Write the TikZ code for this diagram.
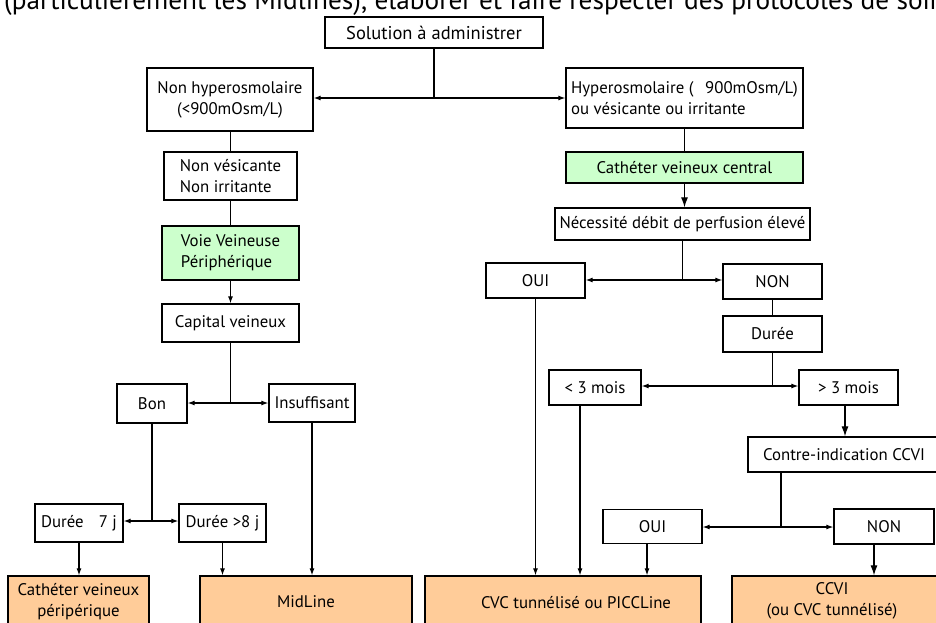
\documentclass[tikz,border=0pt]{standalone}
\usepackage{fontspec}
\setmainfont{PT Sans}
\usetikzlibrary{arrows.meta}
\definecolor{gfillc}{HTML}{CCFFCC}
\definecolor{ofillc}{HTML}{FFCC99}
\begin{document}
\begin{tikzpicture}[x=1pt,y=-1pt,
  box/.style={draw, line width=1.3pt, inner sep=0pt, align=center, font=\fontsize{16.8}{21}\selectfont},
  txt/.style={inner sep=0pt, align=center, font=\fontsize{16.8}{21}\selectfont},
  gbox/.style={box, fill=gfillc},
  obox/.style={box, fill=ofillc},
  sz/.style 2 args={minimum width=#1pt, minimum height=#2pt},
  ln/.style={line width=1.1pt},
  arr/.style={line width=1.1pt, -{Latex[length=7pt,width=5pt]}},
  barr/.style={line width=1.1pt, -{Latex[length=10pt,width=7pt]}}]
\useasboundingbox (0,0) rectangle (936,623);
\clip (0,0) rectangle (936,623);
\fill[white] (0,0) rectangle (936,623);
\node[anchor=base west, font=\fontsize{27.3}{30}\selectfont, inner sep=0pt] (top) at (4,10) {(particulièrement les Midlines), élaborer et faire respecter des protocoles de soins};
% left branch
\node[box,sz={218}{31}, font=\fontsize{18.5}{20}\selectfont] (sol) at (434,32.5) {Solution à administrer};
\node[box,sz={166}{63}] (nhyp) at (230,99.5) {Non hyperosmolaire\\(<900mOsm/L)};
\node[box,sz={133}{48},align=left] (nves) at (230.5,176) {Non vésicante\\Non irritante};
\node[gbox,sz={137}{54},align=left] (vvp) at (230.5,253) {Voie Veineuse\\Périphérique};
\node[box,sz={137}{38}] (cap) at (230.5,323) {Capital veineux};
\node[box,sz={70}{39}] (bon) at (152,403.5) {Bon};
\node[box,sz={86}{38}] (insuf) at (312,403) {Insuffisant};
\node[box,sz={88}{38}] (d7) at (79,523) {Durée\hspace{0.9em}7 j};
\node[box,sz={87}{38}] (d8) at (222.5,523) {Durée >8 j};
\node[obox,sz={141}{52}] (cvp) at (78.5,602) {Cathéter veineux\\péripérique};
\node[obox,sz={212}{52}] (mid) at (306,602) {MidLine};
% right branch
\node[box,sz={237}{60},align=left] (hyp) at (684.5,98) {Hyperosmolaire (\hspace{0.7em}900mOsm/L)\\ou vésicante ou irritante};
\node[gbox,sz={237}{31}] (cvc) at (684.5,167.5) {Cathéter veineux central};
\node[box,sz={255}{32}] (nec) at (682.5,224) {Nécessité débit de perfusion élevé};
\node[box,sz={99}{35}] (oui1) at (535.5,280.5) {OUI};
\node[box,sz={99}{35}] (non1) at (772.5,281.5) {NON};
\node[box,sz={99}{36}] (dur) at (772.5,334) {Durée};
\node[box,sz={92}{35}] (lt3) at (595,387.5) {< 3 mois};
\node[box,sz={99}{35}] (gt3) at (848.5,387.5) {> 3 mois};
\node[box,sz={192}{35}] (ci) at (844,454.5) {Contre-indication CCVI};
\node[box,sz={99}{34}] (oui2) at (652.5,526.5) {OUI};
\node[box,sz={100}{35}] (non2) at (884,526.5) {NON};
\node[obox,sz={276}{52}] (tun) at (563,602) {};
\node[txt] (tuntxt) at (576,603) {CVC tunnélisé ou PICCLine};
\node[obox,sz={218}{52}] (ccvi) at (841,602) {};
\node[txt] (ccvitxt) at (832,601) {CCVI\\(ou CVC tunnélisé)};
% connectors
\coordinate (j1) at (434,98);
\draw[ln] (sol.south) -- (j1);
\draw[arr] (j1) -- (j1 -| nhyp.east);
\draw[arr] (j1) -- (j1 -| hyp.west);
\draw[ln] (nhyp.south -| nves.north) -- (nves.north);
\draw[ln] (nves.south) -- (vvp.north);
\draw[arr] (vvp.south) -- (cap.north);
\coordinate (j2) at (230.5,403);
\draw[ln] (cap.south) -- (j2);
\draw[arr] (j2) -- (j2 -| bon.east);
\draw[arr] (j2) -- (j2 -| insuf.west);
\coordinate (j3) at (152,521);
\draw[ln] (bon.south) -- (j3);
\draw[arr] (j3) -- (j3 -| d7.east);
\draw[arr] (j3) -- (j3 -| d8.west);
\draw[arr] (d7.south) -- (d7.south |- cvp.north);
\draw[arr] (d8.south) -- (d8.south |- mid.north);
\draw[arr] (insuf.south) -- (insuf.south |- mid.north);
\draw[ln] (hyp.south) -- (cvc.north);
\draw[barr] (cvc.south) -- (cvc.south |- nec.north);
\coordinate (j4) at (682.5,280);
\draw[ln] (nec.south) -- (j4);
\draw[arr] (j4) -- (j4 -| oui1.east);
\draw[arr] (j4) -- (j4 -| non1.west);
\draw[ln] (non1.south) -- (dur.north);
\coordinate (j5) at (772.5,386);
\draw[ln] (dur.south) -- (j5);
\draw[arr] (j5) -- (j5 -| lt3.east);
\draw[arr] (j5) -- (j5 -| gt3.west);
\coordinate (gx) at (845,0);
\draw[barr] (gt3.south -| gx) -- (gx |- ci.north);
\coordinate (j6) at (781,527);
\draw[ln] (ci.south -| j6) -- (j6);
\draw[arr] (j6) -- (j6 -| oui2.east);
\draw[arr] (j6) -- (j6 -| non2.west);
\draw[arr] (oui1.south) -- (oui1.south |- tun.north);
\coordinate (lx) at (580,0);
\draw[arr] (lt3.south -| lx) -- (lx |- tun.north);
\coordinate (ox) at (647,0);
\draw[arr] (oui2.south -| ox) -- (ox |- tun.north);
\coordinate (nx) at (874,0);
\draw[barr] (non2.south -| nx) -- (nx |- ccvi.north);
\end{tikzpicture}
\end{document}
